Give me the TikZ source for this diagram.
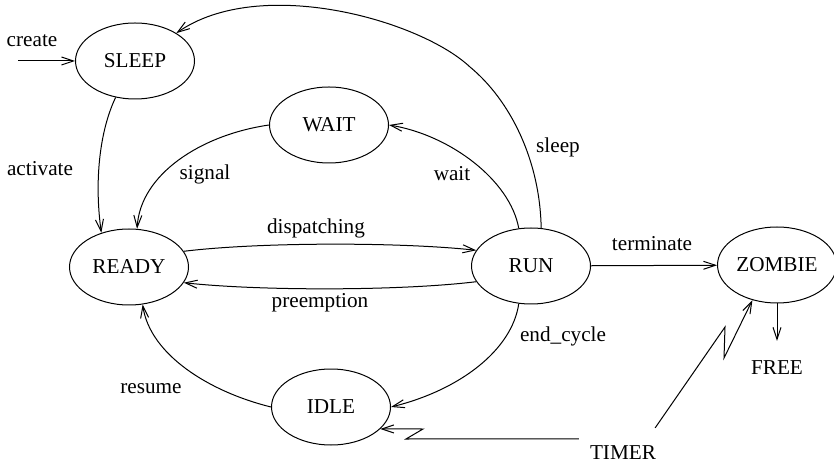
\documentclass[tikz,border=0pt]{standalone}
\usepackage{fontspec}
\setmainfont{Liberation Serif}
\usepackage{tikz}
\usetikzlibrary{shapes.geometric, arrows.meta}

\begin{document}
\begin{tikzpicture}[x=0.5pt, y=-0.5pt, line width=0.5pt,
    every node/.style={font=\fontsize{10.6}{12}\selectfont},
    proc/.style={ellipse, draw, minimum width=59.5pt, minimum height=38pt, inner sep=0pt},
    tr/.style={-{Straight Barb[length=6pt,width=4pt]}}]
    \useasboundingbox (0,0) rectangle (834,464);
    % states
    \foreach \n/\x/\y/\t in {sleep/135/61/SLEEP, wait/329/125/WAIT, ready/129/267/READY,
        run/531/266/RUN, zombie/777/265/ZOMBIE, idle/331/407/IDLE} {
        \node[proc] (\n) at (\x,\y) {\t};
    }
    % labels
    \node (lcreate) at (32,41) {create};
    \node (lactivate) at (40,169) {activate};
    \node (lsignal) at (205,174) {signal};
    \node (ldisp) at (316,228) {dispatching};
    \node (lwait) at (452,174) {wait};
    \node (lsleep) at (558,147) {sleep};
    \node (lterm) at (652,244) {terminate};
    \node (lpre) at (320,303) {preemption};
    \node (lend) at (563,336) {end\_cycle};
    \node (lresume) at (151,389) {resume};
    \node (free) at (777,368) {FREE};
    \node (timer) at (623,453) {TIMER};
    % transitions
    \coordinate (c0) at (18,61);
    \draw[tr] (c0) -- (sleep);
    \draw[tr] (sleep.242) .. controls (100,130) and (94,180) .. (ready.129);
    \draw[tr] (wait.west) .. controls (200,135) and (140,175) .. (ready.78);
    \draw[tr] (run.108) .. controls (510,180) and (450,135) .. (wait.east);
    \draw[tr] (run.75) .. controls (540,160) and (510,100) .. (470,67)
        .. controls (420,20) and (260,-25) .. (sleep.34);
    \draw[tr] (ready.16) .. controls (260,242) and (400,242) .. (run.164);
    \draw[tr] (run.196) .. controls (400,291) and (260,291) .. (ready.344);
    \draw[tr] (run) -- (zombie);
    \draw[tr] (run.252) .. controls (512,350) and (460,390) .. (idle.east);
    \draw[tr] (idle.west) .. controls (210,392) and (150,355) .. (ready.290);
    \draw[tr, shorten >=6.5pt] (zombie.south) -- (free.north);
    \draw[tr] ([xshift=-2pt]timer.north west) -- (406,439) -- (423,429) -- (idle.336);
    \draw[tr] ([xshift=-4pt,yshift=5.5pt]timer.north east) -- (725,327) -- (724,358) -- (zombie.235);
\end{tikzpicture}
\end{document}
